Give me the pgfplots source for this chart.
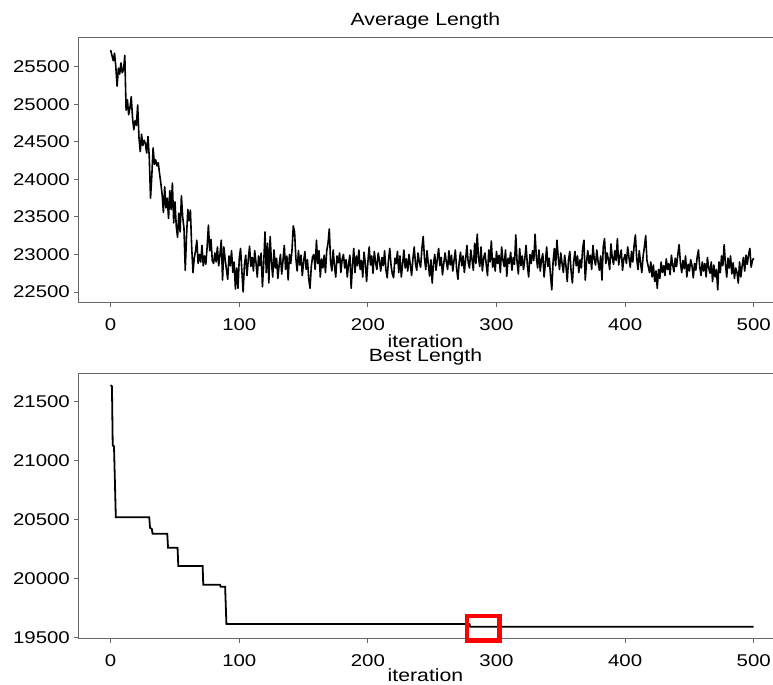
\documentclass[border=0pt]{standalone}
\usepackage{fontspec}
\setmainfont{Liberation Sans}[FakeStretch=1.2]
\usepackage{pgfplots}
\usepackage{pgfplotstable}
\pgfplotsset{compat=1.18}

\pgfplotstableread[row sep=\\]{
y\\
25720\\ 25650\\ 25580\\ 25680\\ 25500\\ 25240\\ 25480\\ 25400\\ 25550\\ 25420\\
25460\\ 25650\\ 24920\\ 25060\\ 24860\\ 24950\\ 25100\\ 24820\\ 24660\\ 24780\\
24720\\ 24990\\ 24560\\ 24370\\ 24600\\ 24450\\ 24520\\ 24480\\ 24350\\ 24570\\
24300\\ 23750\\ 24050\\ 24420\\ 24200\\ 24260\\ 24180\\ 24220\\ 24080\\ 23950\\
23800\\ 23560\\ 23900\\ 23620\\ 23750\\ 23480\\ 23850\\ 23600\\ 23950\\ 23420\\
23700\\ 23380\\ 23230\\ 23550\\ 23300\\ 23780\\ 23500\\ 23350\\ 22790\\ 23250\\
23600\\ 23450\\ 23590\\ 23100\\ 22760\\ 22950\\ 23050\\ 23190\\ 22880\\ 23000\\
22900\\ 23120\\ 22850\\ 22980\\ 22870\\ 23100\\ 23390\\ 23050\\ 23200\\ 22920\\
22880\\ 23020\\ 22900\\ 23100\\ 22850\\ 23000\\ 23190\\ 22660\\ 23100\\ 22940\\
22800\\
22670\\ 22980\\ 22850\\ 23050\\ 22760\\ 22900\\ 22540\\ 22820\\ 22550\\ 22950\\
23080\\ 22780\\ 22500\\ 22860\\ 22990\\ 22720\\ 22930\\ 23110\\ 22840\\ 22960\\
22780\\ 23050\\ 22890\\ 22700\\ 22980\\ 22850\\ 23020\\ 22570\\ 22880\\ 23300\\
22760\\ 23150\\ 22620\\ 23240\\ 22900\\ 22700\\ 23060\\ 22820\\ 22950\\ 22680\\
22860\\ 23000\\ 22740\\ 22920\\ 23120\\ 22800\\ 22980\\ 22660\\ 23000\\ 22880\\
23060\\ 23380\\ 23300\\ 22950\\ 22780\\ 23050\\ 22860\\ 22990\\ 22720\\ 22900\\
23040\\ 22800\\ 22930\\ 22680\\ 22550\\ 22840\\ 22970\\ 23000\\ 22800\\ 23190\\
22880\\ 23050\\ 22700\\ 22940\\ 22820\\ 22990\\ 22760\\ 23050\\ 23150\\ 23340\\
22900\\ 22780\\ 23060\\ 22850\\ 22700\\ 22980\\ 22890\\ 23020\\ 22760\\ 22940\\
23000\\ 22820\\ 22930\\ 22700\\ 22880\\ 22990\\ 22550\\ 22850\\ 23080\\ 22760\\
22980\\ 22850\\ 23060\\ 22800\\ 22920\\ 22700\\ 23030\\ 22880\\ 22640\\ 22900\\
23100\\ 22860\\ 22980\\ 22750\\ 23040\\ 22890\\ 22800\\ 23020\\ 22920\\ 22780\\
22960\\ 22850\\ 23050\\ 22800\\ 22690\\ 22920\\ 23080\\ 22860\\ 22740\\ 22690\\
22950\\ 22880\\ 23040\\ 22760\\ 22980\\ 22700\\ 22870\\ 23060\\ 22820\\ 22940\\
22780\\ 23000\\ 22860\\ 22720\\ 22940\\ 23100\\ 22880\\ 22790\\ 23020\\ 22900\\
22830\\ 23080\\ 23240\\ 22950\\ 22800\\ 23050\\ 22870\\ 22710\\ 22930\\ 22620\\
22880\\ 23000\\ 22790\\ 22940\\ 23080\\ 22850\\ 22960\\ 22730\\ 22880\\ 23020\\
22900\\ 22800\\ 23050\\ 22860\\ 22990\\ 22780\\ 22920\\ 23060\\ 22810\\ 22670\\
22900\\ 23030\\ 22850\\ 22980\\ 22760\\ 22940\\ 23120\\ 22890\\ 22820\\ 23060\\
22930\\ 22790\\ 23150\\ 22880\\ 23270\\ 22960\\ 22840\\ 23100\\ 22780\\ 22950\\
23020\\ 22870\\ 22720\\ 23060\\ 22900\\ 23180\\ 22830\\ 22950\\ 22780\\ 23040\\
22880\\ 22990\\ 22760\\ 23100\\ 22920\\ 22840\\ 23060\\ 22710\\ 22950\\ 22880\\
23030\\ 22790\\ 22960\\ 22870\\ 23260\\ 22900\\ 22740\\ 23080\\ 22850\\ 22980\\
22800\\ 22940\\ 23120\\ 22860\\ 22700\\ 23000\\ 22880\\ 23050\\ 22920\\ 23270\\
22960\\ 22820\\ 23060\\ 22780\\ 22930\\ 23010\\ 22700\\ 22880\\ 23100\\ 22840\\
22950\\ 22720\\ 22530\\ 22900\\ 23080\\ 22850\\ 23190\\ 22960\\ 22800\\ 23020\\
22880\\ 22760\\ 22990\\ 22850\\ 22640\\ 22930\\ 23040\\ 22780\\ 22620\\ 22900\\
23040\\ 22850\\ 22980\\ 22760\\ 22930\\ 22820\\ 23080\\ 23190\\ 22660\\ 22900\\
23050\\ 22880\\ 22990\\ 22800\\ 23120\\ 22940\\ 22860\\ 23060\\ 22900\\ 22790\\
22980\\ 22660\\ 23100\\ 23210\\ 22880\\ 23020\\ 22930\\ 22800\\ 23140\\ 22960\\
22870\\ 23050\\ 22920\\ 23210\\ 22860\\ 22980\\ 23060\\ 22790\\ 22940\\ 23000\\
22880\\ 23100\\ 22960\\ 22830\\ 23040\\ 22900\\ 23120\\ 23260\\ 22950\\ 22800\\
23050\\ 22890\\ 22760\\ 22980\\ 23100\\ 23250\\ 22920\\ 22840\\ 22760\\ 22900\\
22700\\ 22860\\ 22640\\ 22780\\ 22550\\ 22800\\ 22680\\ 22900\\ 22760\\ 22850\\
22720\\ 22940\\ 22800\\ 22880\\ 22730\\ 22990\\ 22860\\ 22770\\ 22950\\ 22840\\
23000\\ 23130\\ 22890\\ 22760\\ 22920\\ 22810\\ 22980\\ 22700\\ 22870\\ 22780\\
22930\\ 22850\\ 22690\\ 22880\\ 22790\\ 22960\\ 23060\\ 22840\\ 22720\\ 22900\\
22780\\ 22880\\ 22700\\ 22960\\ 22820\\ 22750\\ 22900\\ 22640\\ 22860\\ 22700\\
22800\\ 22530\\ 22900\\ 22760\\ 22980\\ 22850\\ 23130\\ 22880\\ 22700\\ 22950\\
22820\\ 22980\\ 22740\\ 22890\\ 22680\\ 22820\\ 22760\\ 22620\\ 22900\\ 22700\\
22850\\ 22960\\ 22780\\ 22990\\ 22870\\ 23000\\ 23080\\ 22830\\ 22920\\ 22950\\
}\avgdata

\pgfplotsset{
  mystyle/.style={
    scale only axis, width=695bp, height=265bp, anchor=south west,
    axis line style={black!60, line width=1bp},
    every tick/.style={black!60, line width=1bp},
    tick align=outside, major tick length=4bp,
    xtick pos=left, ytick pos=left,
    xmin=-25.4, xmax=515,
    xtick={0,100,...,500},
    /pgf/number format/assume math mode=true,
    /pgf/number format/set thousands separator={},
    scaled y ticks=false,
    tick label style={font=\fontsize{17bp}{20bp}\selectfont, inner sep=0pt},
    xticklabel style={anchor=base, yshift=-23.4bp},
    yticklabel style={anchor=east, xshift=-4bp},
    xlabel={iteration},
    xlabel style={font=\fontsize{17.7bp}{21bp}\selectfont, at={(0.5,0)}, anchor=base, inner sep=0pt},
    title style={font=\fontsize{17.7bp}{21bp}\selectfont, at={(0.5,1)}, anchor=base, yshift=6.5bp, inner sep=0pt},
  }
}

\begin{document}
\begin{tikzpicture}
\useasboundingbox (0,0) rectangle (773bp,685bp);
\begin{axis}[mystyle, at={(78bp,382bp)},
  title={Average Length},
  xlabel style={yshift=-45bp},
  ymin=22354, ymax=25882,
  ytick={22500,23000,...,25500}]
\addplot[black, line width=1.6bp, line join=round] table[x expr=\coordindex, y=y] {\avgdata};
\end{axis}
\begin{axis}[mystyle, at={(78bp,46bp)},
  title={Best Length},
  xlabel style={yshift=-42bp},
  ymin=19486, ymax=21735, clip=false,
  ytick={19500,20000,...,21500}]
\addplot[black, line width=1.8bp] coordinates {
(0,21640) (1,21630) (1.6,21130) (2.6,21120) (4,20520) (30,20520)
(30.6,20430) (32,20420) (32.6,20380) (44,20380) (44.6,20260) (52,20260)
(52.6,20105) (71.5,20105) (72,19946) (85,19946) (85.5,19930) (89,19930)
(90,19613) (279,19613) (279.5,19590) (500,19590)};
\draw[red, line width=4.3bp] (axis cs:277.2,19679) rectangle (axis cs:302.3,19473);
\end{axis}
\end{tikzpicture}
\end{document}
